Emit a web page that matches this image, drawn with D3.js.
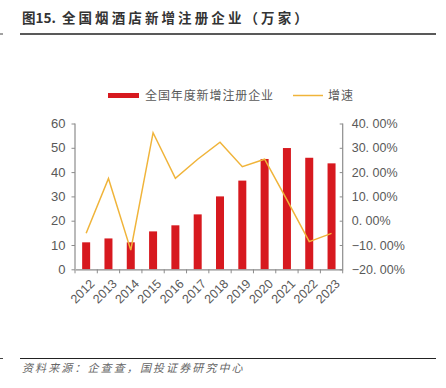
<!DOCTYPE html>
<html lang="zh">
<head>
<meta charset="UTF-8">
<title>全国烟酒店新增注册企业</title>
<script src="https://d3js.org/d3.v7.min.js"></script>
<style>
  body { margin: 0; background: #fff; }
  svg text { font-family: "Liberation Sans", Arial, "Noto Sans CJK SC", sans-serif; }
  .cjk { font-family: "Noto Sans CJK SC", sans-serif; }
</style>
</head>
<body>
<div id="chart"></div>
<script>
// data
const years = ["2012","2013","2014","2015","2016","2017","2018","2019","2020","2021","2022","2023"];
const newFirms = [11.1, 12.7, 11.1, 15.6, 18.1, 22.6, 30.0, 36.5, 45.4, 49.9, 45.9, 43.6]; // 万家
const growth = [-5.2, 17.4, -12.1, 36.2, 17.4, 25.3, 32.3, 22.2, 25.3, 8.6, -8.6, -5.2]; // %
const leftTicks = [0, 10, 20, 30, 40, 50, 60];
const rightTicks = [-20, -10, 0, 10, 20, 30, 40];

const W = 446, H = 388;
const plot = { left: 75, right: 342.7, top: 123.5, bottom: 269.3 };
const red = "#d7191f", gold = "#f0b43a", axisCol = "#8c8c8c", txt = "#595959";

const svg = d3.select("#chart").append("svg")
  .attr("width", W).attr("height", H);

// title + rules
const title = svg.append("text").attr("class", "cjk")
  .attr("x", 22).attr("y", 23)
  .attr("font-size", 13.5).attr("font-weight", "bold").attr("fill", "#333");
title.append("tspan").text("图15. ");
title.append("tspan").attr("dx", 3).attr("letter-spacing", 3.1).text("全国烟酒店新增注册企业（万家）");
svg.append("line").attr("x1", 20).attr("x2", 436).attr("y1", 34).attr("y2", 34)
  .attr("stroke", "#222").attr("stroke-width", 1.5);
svg.append("line").attr("x1", 0).attr("x2", 3).attr("y1", 34).attr("y2", 34)
  .attr("stroke", "#444").attr("stroke-width", 1);
svg.append("line").attr("x1", 20).attr("x2", 436).attr("y1", 358.5).attr("y2", 358.5)
  .attr("stroke", "#222").attr("stroke-width", 1.2);
svg.append("line").attr("x1", 0).attr("x2", 3).attr("y1", 358.5).attr("y2", 358.5)
  .attr("stroke", "#444").attr("stroke-width", 1);
svg.append("text").attr("class", "cjk")
  .attr("x", 22).attr("y", 372)
  .attr("font-size", 11).attr("font-style", "italic").attr("fill", "#666")
  .attr("letter-spacing", 2.1)
  .text("资料来源：企查查，国投证券研究中心");

// scales
const xb = d3.scaleBand().domain(years).range([plot.left, plot.right]);
const yL = d3.scaleLinear().domain([0, 60]).range([plot.bottom, plot.top]);
const yR = d3.scaleLinear().domain([-20, 40]).range([plot.bottom, plot.top]);

// bars
svg.append("g").selectAll("rect").data(newFirms).join("rect")
  .attr("x", (d, i) => xb(years[i]) + xb.bandwidth() / 2 - 4)
  .attr("width", 8)
  .attr("y", d => yL(d))
  .attr("height", d => yL(0) - yL(d))
  .attr("fill", red);

// line
const line = d3.line()
  .x((d, i) => xb(years[i]) + xb.bandwidth() / 2)
  .y(d => yR(d));
svg.append("path").datum(growth)
  .attr("d", line).attr("fill", "none")
  .attr("stroke", gold).attr("stroke-width", 1.5);

// left axis
const gL = svg.append("g").attr("transform", `translate(${plot.left},0)`)
  .call(d3.axisLeft(yL).tickValues(leftTicks).tickSize(3.5).tickPadding(6));
// right axis
const gR = svg.append("g").attr("transform", `translate(${plot.right},0)`)
  .call(d3.axisRight(yR).tickValues(rightTicks).tickSize(-3).tickPadding(9)
    .tickFormat(d => (d < 0 ? "\u2212" : "") + Math.abs(d).toFixed(0) + ". 00%"));
// bottom axis
const gB = svg.append("g").attr("transform", `translate(0,${plot.bottom})`)
  .call(d3.axisBottom(xb).tickSize(0).tickPadding(0));
gB.selectAll(".tick text")
  .attr("text-anchor", "end")
  .attr("transform", "translate(3,9) rotate(-45)")
  .attr("dy", "0.7em");
const bounds = [plot.left].concat(years.map(y => xb(y) + xb.bandwidth()));
gB.selectAll(".sep").data(bounds).join("line").attr("class", "sep")
  .attr("x1", d => d).attr("x2", d => d).attr("y1", 0).attr("y2", 4)
  .attr("stroke", axisCol);

[gL, gR, gB].forEach(g => {
  g.select(".domain").attr("stroke", axisCol).attr("stroke-width", 1.2);
  g.selectAll(".tick line").attr("stroke", axisCol);
  g.selectAll(".tick text").attr("fill", txt).attr("font-size", 13);
});
gB.selectAll(".tick text").attr("font-size", 12.5);
gR.selectAll(".tick text").attr("font-size", 12.5);
gL.select(".domain").attr("d", `M0,${plot.bottom}V${plot.top}`);
gR.select(".domain").attr("d", `M0,${plot.bottom}V${plot.top}`);

// legend
const lg = svg.append("g");
lg.append("rect").attr("x", 108).attr("y", 93).attr("width", 31).attr("height", 5).attr("fill", red);
lg.append("text").attr("class", "cjk").attr("x", 145).attr("y", 100)
  .attr("font-size", 12).attr("fill", txt).attr("letter-spacing", 0.9)
  .text("全国年度新增注册企业");
lg.append("line").attr("x1", 293).attr("x2", 323).attr("y1", 95.5).attr("y2", 95.5)
  .attr("stroke", gold).attr("stroke-width", 1.5);
lg.append("text").attr("class", "cjk").attr("x", 328).attr("y", 100)
  .attr("font-size", 12).attr("fill", txt).attr("letter-spacing", 0.9).text("增速");
</script>
</body>
</html>
